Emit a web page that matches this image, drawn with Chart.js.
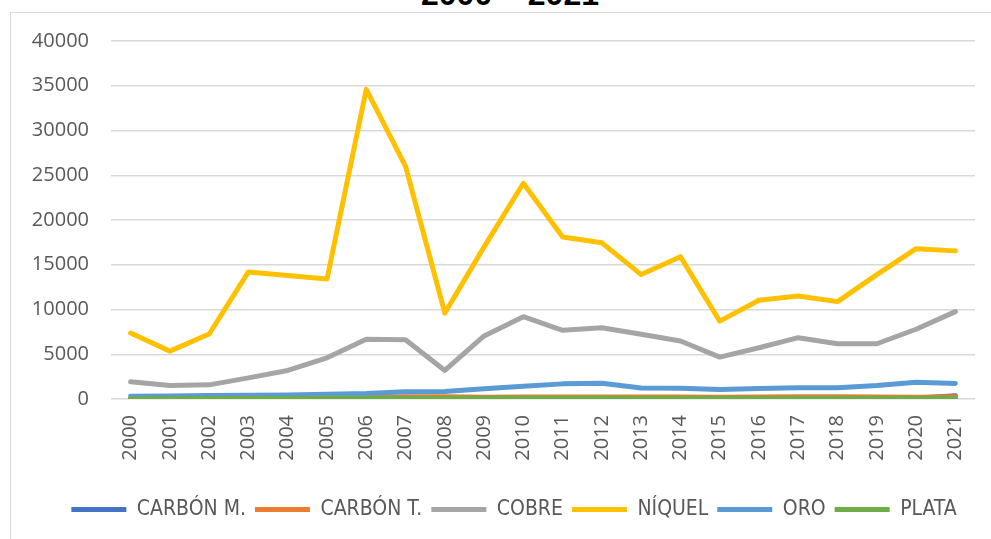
<!DOCTYPE html>
<html>
<head>
<meta charset="utf-8">
<script src="https://cdn.jsdelivr.net/npm/chart.js@4/dist/chart.umd.min.js"></script>
<style>
  html, body { margin: 0; padding: 0; background: #fff; width: 991px; height: 539px; overflow: hidden; }
  #title {
    position: absolute; left: 0; width: 1020px; top: -22px; text-align: center;
    font: bold 32px 'Liberation Sans', Arial, sans-serif; line-height: 32px; color: #000;
  }
  #frame {
    position: absolute; left: 10px; top: 12px; width: 1008px; height: 527px;
    border-left: 1.5px solid #d9d9d9; border-top: 1.5px solid #d9d9d9;
  }
  #wrap { position: absolute; left: 10px; top: 7px; width: 1008px; height: 532px; }
</style>
</head>
<body>
<div id="title">2000 – 2021</div>
<div id="frame"></div>
<div id="wrap"><canvas id="chart"></canvas></div>
<script>
// ----- data -----
const years = ['2000','2001','2002','2003','2004','2005','2006','2007','2008','2009','2010',
               '2011','2012','2013','2014','2015','2016','2017','2018','2019','2020','2021']

const carbonM = [20, 20, 25, 25, 30, 30, 40, 50, 60, 50, 60, 70, 70, 60, 60, 50, 60, 70, 70, 60, 80, 350]
const carbonT = [60, 60, 70, 80, 90, 100, 130, 250, 260, 200, 220, 230, 230, 220, 220, 200, 230, 250, 250, 220, 200, 250]
const cobre   = [1920, 1510, 1580, 2360, 3190, 4600, 6670, 6620, 3190, 7040, 9200,
                 7680, 7970, 7230, 6480, 4680, 5730, 6850, 6170, 6170, 7790, 9760]
const niquel  = [7370, 5350, 7260, 14200, 13800, 13400, 34600, 26000, 9600, 17000, 24100,
                 18100, 17450, 13900, 15900, 8700, 11040, 11500, 10880, 13900, 16800, 16550]
const oro     = [300, 330, 380, 420, 460, 520, 620, 820, 850, 1150, 1430,
                 1690, 1770, 1240, 1200, 1060, 1180, 1250, 1250, 1510, 1880, 1730]
const plata   = [40, 40, 45, 50, 60, 70, 80, 90, 90, 100, 110, 120, 110, 90, 80, 70, 70, 70, 70, 70, 80, 90]

const seriesNames = ['CARBÓN M.', 'CARBÓN T.', 'COBRE', 'NÍQUEL', 'ORO', 'PLATA']
const seriesData = [carbonM, carbonT, cobre, niquel, oro, plata]
const seriesColors = ['#4472C4', '#ED7D31', '#A5A5A5', '#FFC000', '#5B9BD5', '#70AD47']

const yTicks = { min: 0, max: 40000, step: 5000 }

// ----- chart -----
const textColor = '#595959'
const gridColor = '#d9d9d9'
const axisFont = { family: "'Open Sans', sans-serif", size: 20 }

const datasets = seriesNames.map((name, i) => ({
  label: name,
  data: seriesData[i],
  borderColor: seriesColors[i],
  backgroundColor: seriesColors[i],
  borderWidth: 5,
  borderCapStyle: 'round',
  borderJoinStyle: 'round',
  pointRadius: 0,
  tension: 0,
  // excel draws the last series on top
  order: seriesNames.length - i,
}))

// the original legend sits centred on the whole (wider) chart, nudge it right
const legendShift = {
  id: 'legendShift',
  afterLayout(chart) {
    chart.legend.left += 21
    chart.legend.right += 21
  },
}

new Chart(document.getElementById('chart'), {
  type: 'line',
  data: { labels: years, datasets },
  plugins: [legendShift],
  options: {
    responsive: true,
    maintainAspectRatio: false,
    animation: false,
    layout: { padding: { left: 1, right: 43, top: 20, bottom: 9 } },
    plugins: {
      tooltip: { enabled: false },
      legend: {
        position: 'bottom',
        labels: {
          color: textColor,
          font: { family: "'Liberation Sans Narrow', 'DejaVu Sans Condensed', sans-serif", size: 21 },
          usePointStyle: true,
          pointStyle: 'line',
          pointStyleWidth: 55,
          padding: 9,
          sort: (a, b) => a.datasetIndex - b.datasetIndex,
        },
      },
    },
    scales: {
      x: {
        offset: true,
        grid: { display: false },
        border: { display: false },
        ticks: { color: textColor, font: axisFont, minRotation: 90, maxRotation: 90, padding: 8, autoSkip: false },
        afterFit: s => { s.height = 91 },
      },
      y: {
        min: yTicks.min,
        max: yTicks.max,
        grid: { color: gridColor, lineWidth: 1.5, drawTicks: false },
        border: { display: false },
        ticks: {
          stepSize: yTicks.step, color: textColor, font: axisFont, padding: 22,
          callback: v => String(v),
        },
        afterFit: s => { s.width = 100 },
      },
    },
  },
})
</script>
</body>
</html>
